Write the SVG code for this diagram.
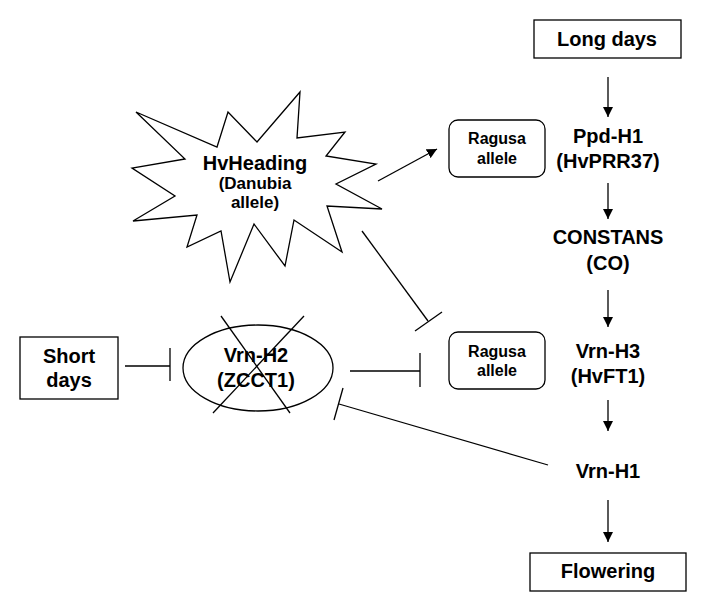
<svg xmlns="http://www.w3.org/2000/svg" width="706" height="611" viewBox="0 0 706 611">
<defs>
<style>
text{font-family:"Liberation Sans",Arial,sans-serif;font-weight:bold;fill:#000;text-anchor:middle}
.big{font-size:20px}
.mid{font-size:17px}
.sm{font-size:16px}
.box{fill:#fff;stroke:#000;stroke-width:1.3}
.ln{stroke:#000;stroke-width:1.3;fill:none}
</style>
<marker id="ah" viewBox="0 0 10 10" refX="10" refY="5" markerWidth="10" markerHeight="10" markerUnits="userSpaceOnUse" orient="auto">
<path d="M0,0 L10,5 L0,10 z" fill="#000"/>
</marker>
</defs>
<rect width="706" height="611" fill="#fff"/>
<g id="connectors">
<line class="ln" x1="608" y1="77" x2="608" y2="117" marker-end="url(#ah)"/>
<line class="ln" x1="608" y1="183" x2="608" y2="219" marker-end="url(#ah)"/>
<line class="ln" x1="608" y1="290" x2="608" y2="327" marker-end="url(#ah)"/>
<line class="ln" x1="608" y1="400" x2="608" y2="431" marker-end="url(#ah)"/>
<line class="ln" x1="608" y1="500" x2="608" y2="542" marker-end="url(#ah)"/>
<line class="ln" x1="378" y1="181" x2="437" y2="149" marker-end="url(#ah)"/>
<line class="ln" x1="362" y1="231" x2="428" y2="321"/>
<line class="ln" x1="415" y1="331" x2="442" y2="312"/>
<line class="ln" x1="350" y1="371" x2="420" y2="371"/>
<line class="ln" x1="420" y1="353" x2="420" y2="387"/>
<line class="ln" x1="125" y1="366" x2="170" y2="366"/>
<line class="ln" x1="170" y1="348" x2="170" y2="381"/>
<line class="ln" x1="548" y1="465" x2="339" y2="404"/>
<line class="ln" x1="334" y1="420" x2="343" y2="388"/>
</g>
<g id="long-days">
<rect class="box" x="534" y="20" width="147" height="38"/>
<text class="big" x="607" y="46">Long days</text>
</g>
<g id="ppd-h1">
<text class="big" x="608" y="143">Ppd-H1</text>
<text class="big" x="608" y="168">(HvPRR37)</text>
</g>
<g id="ragusa1">
<rect class="box" x="449" y="120" width="96" height="57" rx="9"/>
<text class="sm" x="497" y="144">Ragusa</text>
<text class="sm" x="497" y="164">allele</text>
</g>
<g id="hvheading">
<polygon class="box" points="136,112 217,147 228,112 257,142 300,92 297,138 345,132 326,156 376,164 336,184 382,209 327,206 342,252 294,220 285,266 254,224 230,282 221,231 187,247 197,215 133,221 175,196 132,168 185,159"/>
<text class="big" x="255" y="170">HvHeading</text>
<text class="mid" x="255" y="189">(Danubia</text>
<text class="mid" x="255" y="208">allele)</text>
</g>
<g id="constans">
<text class="big" x="608" y="244">CONSTANS</text>
<text class="big" x="608" y="270">(CO)</text>
</g>
<g id="ragusa2">
<rect class="box" x="449" y="332" width="96" height="57" rx="9"/>
<text class="sm" x="497" y="357">Ragusa</text>
<text class="sm" x="497" y="376">allele</text>
</g>
<g id="vrn-h3">
<text class="big" x="608" y="358">Vrn-H3</text>
<text class="big" x="608" y="383">(HvFT1)</text>
</g>
<g id="short-days">
<rect class="box" x="20" y="337" width="98" height="62"/>
<text class="big" x="69" y="363">Short</text>
<text class="big" x="69" y="387">days</text>
</g>
<g id="vrn-h2">
<ellipse class="box" cx="258" cy="368" rx="75" ry="43"/>
<text class="big" x="256" y="362">Vrn-H2</text>
<text class="big" x="256" y="387">(ZCCT1)</text>
<line class="ln" x1="221" y1="316" x2="290" y2="413"/>
<line class="ln" x1="304" y1="316" x2="213" y2="413"/>
</g>
<g id="vrn-h1">
<text class="big" x="608" y="478">Vrn-H1</text>
</g>
<g id="flowering">
<rect class="box" x="530" y="553" width="156" height="38"/>
<text class="big" x="608" y="578">Flowering</text>
</g>
</svg>
